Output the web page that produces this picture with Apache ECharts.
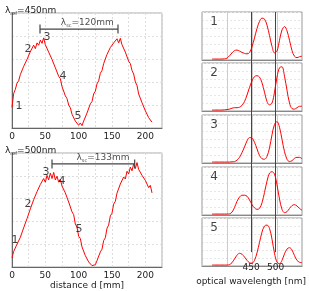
<!DOCTYPE html>
<html><head><meta charset="utf-8">
<script src="https://cdn.jsdelivr.net/npm/echarts@6/dist/echarts.min.js"></script>
<style>html,body{margin:0;padding:0;background:#fff}#c{width:309px;height:291px}</style>
</head><body><div id="c"></div>
<script>
// ---- data ----
const dStep = 2.5; // mm, sampling of the interferogram traces
const trace450 = [0.90,1.50,1.68,1.95,2.05,2.32,2.40,2.68,2.72,2.98,3.05,3.32,3.35,3.60,3.45,3.70,3.60,3.82,3.68,3.92,3.62,3.60,3.30,3.30,2.98,2.95,2.62,2.55,2.25,2.15,1.80,1.72,1.40,1.28,1.00,0.88,0.60,0.55,0.30,0.32,0.12,0.22,0.10,0.30,0.38,0.65,0.72,1.05,1.15,1.48,1.60,1.92,2.05,2.38,2.50,2.80,2.88,3.20,3.25,3.50,3.48,3.70,3.62,3.88,3.70,3.90,3.62,3.58,3.30,3.22,2.90,2.80,2.50,2.35,2.00,1.85,1.48,1.40,1.10,1.02,0.75,0.70,0.45,0.42,0.25];
const trace500 = [0.40,0.68,0.68,1.00,0.98,1.30,1.35,1.72,1.75,2.12,2.15,2.55,2.58,2.95,2.92,3.30,3.28,3.62,3.55,3.88,3.72,4.02,3.82,4.12,3.88,4.15,3.82,3.98,3.72,3.85,3.55,3.60,3.25,3.22,2.85,2.80,2.42,2.30,1.88,1.75,1.35,1.25,0.88,0.80,0.50,0.48,0.22,0.25,0.06,0.10,0.10,0.28,0.34,0.66,0.78,1.16,1.28,1.70,1.84,2.24,2.36,2.76,2.88,3.24,3.30,3.64,3.66,3.95,3.86,4.20,4.08,4.38,4.22,4.52,4.32,4.58,4.28,4.32,4.02,4.08,3.80,3.82,3.48,3.58,3.25];
const marks450 = [[10.5,0.96,'1'],[24,3.42,'2'],[52.5,3.95,'3'],[76.5,2.24,'4'],[99,0.53,'5']];
const marks500 = [[4.5,1.18,'1'],[24,2.76,'2'],[51,4.17,'3'],[75,3.77,'4'],[100.5,1.67,'5']];
const period450 = {from:42, to:159, level:4.3, value:120, labelAt:[113,4.56]};
const period500 = {from:60, to:184, level:4.52, value:133, labelAt:[136.5,4.78]};
const refWavelengths = [450, 500];
const wl = [370,375,380,385,390,395,400,405,410,415,420,425,430,435,440,445,450,455,460,465,470,475,480,485,490,495,500,505,510,515,520,525,530,535,540,545,550];
const spec1 = [0,0,0,0,0,0.005,0.02,0.07,0.13,0.18,0.19,0.17,0.14,0.12,0.11,0.14,0.26,0.45,0.65,0.80,0.87,0.85,0.72,0.50,0.27,0.13,0.17,0.40,0.62,0.69,0.60,0.40,0.18,0.06,0.03,0.05,0.06];
const spec2 = [0,0,0,0,0,0.005,0.01,0.02,0.04,0.05,0.05,0.06,0.10,0.18,0.32,0.48,0.62,0.71,0.73,0.70,0.58,0.38,0.18,0.11,0.15,0.38,0.70,0.90,0.92,0.72,0.42,0.15,0.03,0.02,0.05,0.08,0.08];
const spec3 = [0,0,0,0,0,0,0,0,0.005,0.01,0.04,0.10,0.20,0.32,0.45,0.52,0.51,0.42,0.28,0.14,0.07,0.06,0.12,0.30,0.58,0.80,0.86,0.74,0.48,0.22,0.06,0.01,0.03,0.08,0.10,0.10,0.07];
const spec4 = [0,0,0,0,0,0,0,0.005,0.04,0.14,0.27,0.36,0.40,0.40,0.38,0.30,0.20,0.13,0.10,0.12,0.24,0.46,0.70,0.87,0.90,0.85,0.62,0.32,0.10,0.03,0.05,0.12,0.18,0.20,0.17,0.12,0.08];
const spec5 = [0,0,0,0,0,0,0,0.01,0.05,0.13,0.21,0.25,0.23,0.17,0.10,0.05,0.04,0.10,0.26,0.48,0.70,0.83,0.85,0.78,0.55,0.25,0.06,0.03,0.10,0.24,0.34,0.37,0.32,0.20,0.10,0.06,0.05];
const spectra = [spec1, spec2, spec3, spec4, spec5];
const panelNames = ['1','2','3','4','5'];

// ---- layout ----
const FONT = 'DejaVu Sans';
const RED = '#ff0000';
const leftGrids = [{left:12, top:13, width:150, height:115},{left:12, top:153, width:150, height:114}];
const panelTops = [12, 63, 115, 167, 218];
const grids = [];
leftGrids.forEach(g => grids.push(Object.assign({show:true, borderColor:'#aaa', borderWidth:1}, g)));
panelTops.forEach(t => grids.push({left:202, top:t, width:100, height:48, show:true, borderColor:'#999', borderWidth:1}));
grids.push({left:202, top:12, width:100, height:254, show:false});

const xAxes = [], yAxes = [], series = [];
[0,1].forEach(i => {
  xAxes.push({type:'value', gridIndex:i, min:0, max:225, interval:25,
    axisLine:{show:true, onZero:false, lineStyle:{color:'#666'}}, axisTick:{show:false},
    axisLabel:{fontFamily:FONT, fontSize:9, color:'#222', margin:4, formatter:v => (v % 50 === 0 && v <= 200) ? String(v) : ''},
    splitLine:{show:true, lineStyle:{color:'#ddd', type:[2,2]}},
    name: i === 1 ? 'distance d [mm]' : '', nameLocation:'middle', nameGap:14,
    nameTextStyle:{fontFamily:FONT, fontSize:9, color:'#222'}});
  yAxes.push({type:'value', gridIndex:i, min:0, max:5, interval:1,
    axisLine:{show:true, onZero:false, lineStyle:{color:'#666'}}, axisTick:{show:false}, axisLabel:{show:false},
    splitLine:{show:true, lineStyle:{color:'#ddd', type:[2,2]}}});
});
panelTops.forEach((t, k) => {
  const gi = 2 + k;
  xAxes.push({type:'value', gridIndex:gi, min:350, max:550, interval:50,
    axisLine:{show:true, onZero:false, lineStyle:{color:'#888'}}, axisTick:{show:false}, axisLabel:{show:false},
    splitLine:{show:true, lineStyle:{color:'#ccc', width:1}}});
  yAxes.push({type:'value', gridIndex:gi, min:-0.02, max:1, interval:0.17,
    axisLine:{show:false, onZero:false}, axisTick:{show:false}, axisLabel:{show:false},
    splitLine:{show:true, lineStyle:{color:'#e6e6e6', type:[2,2]}}});
});
xAxes.push({type:'value', gridIndex:7, min:350, max:550, interval:50, position:'bottom',
  axisLine:{show:false, onZero:false}, axisTick:{show:false}, splitLine:{show:false},
  axisLabel:{fontFamily:FONT, fontSize:9, color:'#222', margin:11, formatter:v => refWavelengths.indexOf(v) >= 0 ? String(v) : ''},
  name:'optical wavelength [nm]', nameLocation:'middle', nameGap:17,
  nameTextStyle:{fontFamily:FONT, fontSize:9, color:'#222'}});
yAxes.push({type:'value', gridIndex:7, min:0, max:1, show:false});

// interferogram traces
[trace450, trace500].forEach((tr, i) => {
  series.push({type:'line', xAxisIndex:i, yAxisIndex:i, data: tr.map((v, j) => [j * dStep, v]),
    showSymbol:false, lineStyle:{color:RED, width:1}, silent:true, z:3});
});
// point markers 1..5
[marks450, marks500].forEach((m, i) => {
  series.push({type:'scatter', xAxisIndex:i, yAxisIndex:i, symbolSize:0, silent:true, z:5,
    data: m.map(p => ({value:[p[0], p[1]], name:p[2]})),
    label:{show:true, position:'inside', formatter:'{b}', fontFamily:FONT, fontSize:11, color:'#111'}});
});
// period brackets
const smallRich = {l:{fontSize:9, fontFamily:FONT, color:'#222'}, s:{fontSize:5, fontFamily:FONT, color:'#222', padding:[5,0,0,0]}, n:{fontSize:9, fontFamily:FONT, color:'#222'}};
[period450, period500].forEach((p, i) => {
  series.push({type:'line', xAxisIndex:i, yAxisIndex:i, data:[[p.from, p.level],[p.to, p.level]],
    symbol:'rect', symbolSize:[1.2, 9], showSymbol:true, itemStyle:{color:'#444'},
    lineStyle:{color:'#444', width:1.2}, silent:true, z:4});
  series.push({type:'scatter', xAxisIndex:i, yAxisIndex:i, symbolSize:0, silent:true, z:5,
    data:[{value:p.labelAt, name:String(p.value)}],
    label:{show:true, position:'inside', fontFamily:FONT, color:'#222',
      formatter: '{l|λ}{s|sc}{n|=' + p.value + 'mm}', rich:smallRich}});
});
// spectra
spectra.forEach((sp, k) => {
  const gi = 2 + k;
  series.push({type:'line', xAxisIndex:gi, yAxisIndex:gi, data: sp.map((v, j) => [wl[j], v]),
    showSymbol:false, smooth:0.35, lineStyle:{color:RED, width:1}, silent:true, z:3});
  series.push({type:'scatter', xAxisIndex:gi, yAxisIndex:gi, symbolSize:0, silent:true, z:5,
    data:[{value:[374, 0.8], name:panelNames[k]}],
    label:{show:true, position:'inside', formatter:'{b}', fontFamily:FONT, fontSize:12, color:'#111'}});
});
// reference wavelength lines across all panels
series.push({type:'line', xAxisIndex:7, yAxisIndex:7, data:[], silent:true, z:6,
  markLine:{silent:true, symbol:'none', label:{show:false}, animation:false,
    lineStyle:{color:'#444', width:1, type:'solid'},
    data: refWavelengths.map(w => ({xAxis:w}))}});

const titleRich = {l:{fontSize:9, fontWeight:'normal', fontFamily:FONT, color:'#222'}, s:{fontSize:5, fontWeight:'normal', fontFamily:FONT, color:'#222', padding:[5,0,0,0]}, n:{fontSize:9, fontWeight:'normal', fontFamily:FONT, color:'#222'}};
const option = {
  animation:false,
  title:[
    {text:'{l|λ}{s|ref}{n|=450nm}', left:0, top:1, textStyle:{fontWeight:'normal', rich:titleRich}},
    {text:'{l|λ}{s|ref}{n|=500nm}', left:0, top:141, textStyle:{fontWeight:'normal', rich:titleRich}}
  ],
  grid:grids, xAxis:xAxes, yAxis:yAxes, series:series
};
const chart = echarts.init(document.getElementById('c'), null, {renderer:'canvas'});
chart.setOption(option);
</script></body></html>
